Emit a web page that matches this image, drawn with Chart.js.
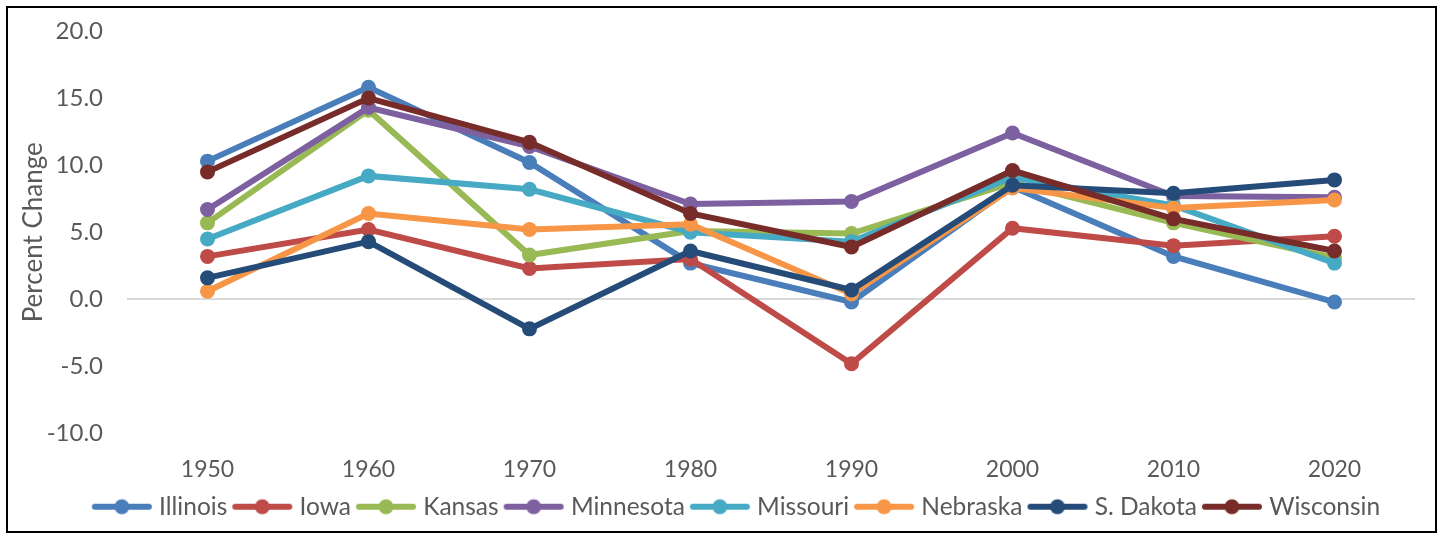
<!DOCTYPE html>
<html><head><meta charset="utf-8">
<script src="https://cdn.jsdelivr.net/npm/chart.js@4/dist/chart.umd.min.js"></script>
<style>
html,body{margin:0;padding:0;background:#fff;}
#wrap{position:relative;width:1441px;height:537px;}
#frame{position:absolute;left:6px;top:6px;width:1427px;height:523px;border:2px solid #000;pointer-events:none;}
#c{position:absolute;left:0;top:0;}
</style></head><body>
<div id="wrap"><canvas id="c" width="1441" height="537"></canvas><div id="frame"></div></div>
<script>
// Decade-over-decade population change (%) by state
const years = ['1950', '1960', '1970', '1980', '1990', '2000', '2010', '2020'];
const illinois  = [10.3, 15.8, 10.2, 2.7, -0.2, 8.4, 3.2, -0.2];
const iowa      = [3.2, 5.2, 2.3, 3.0, -4.8, 5.3, 4.0, 4.7];
const kansas    = [5.7, 14.1, 3.3, 5.1, 4.9, 8.7, 5.7, 3.1];
const minnesota = [6.7, 14.3, 11.4, 7.1, 7.3, 12.4, 7.7, 7.6];
const missouri  = [4.5, 9.2, 8.2, 5.0, 4.3, 9.1, 7.0, 2.7];
const nebraska  = [0.6, 6.4, 5.2, 5.6, 0.4, 8.3, 6.8, 7.4];
const sdakota   = [1.6, 4.3, -2.2, 3.6, 0.7, 8.5, 7.9, 8.9];
const wisconsin = [9.5, 15.0, 11.7, 6.4, 3.9, 9.6, 6.0, 3.6];
const yTicks    = [20, 15, 10, 5, 0, -5, -10];

const names  = ['Illinois', 'Iowa', 'Kansas', 'Minnesota', 'Missouri', 'Nebraska', 'S. Dakota', 'Wisconsin'];
const series = [illinois, iowa, kansas, minnesota, missouri, nebraska, sdakota, wisconsin];
const colors = ['#4A7EBB', '#BE4B48', '#98B954', '#7D60A0', '#46AAC5', '#F79646', '#254B78', '#772C2A'];

const FONT = "Lato, 'Open Sans', sans-serif";
const TEXT = '#595959';

// legend swatch: a short line with a dot in the middle
function swatch(color) {
  const cv = document.createElement('canvas');
  cv.width = 62; cv.height = 18;
  const g = cv.getContext('2d');
  g.strokeStyle = color; g.lineWidth = 6; g.lineCap = 'round';
  g.beginPath(); g.moveTo(4, 9); g.lineTo(58, 9); g.stroke();
  g.fillStyle = color;
  g.beginPath(); g.arc(31, 9, 7.5, 0, Math.PI * 2); g.fill();
  return cv;
}
const swatches = colors.map(swatch);

const datasets = series.map((d, i) => ({
  label: names[i],
  data: d,
  borderColor: colors[i],
  backgroundColor: colors[i],
  borderWidth: 6,
  pointRadius: 7.5,
  pointHoverRadius: 7.5,
  pointBorderWidth: 0,
  pointBackgroundColor: colors[i],
  tension: 0,
  order: series.length - i
}));

// nudge the legend row a little to the right of the canvas centre
const legendShift = {
  id: 'legendShift',
  afterLayout(chart) {
    if (chart.legend) { chart.legend.left += 24; chart.legend.right += 24; }
  }
};

new Chart(document.getElementById('c'), {
  type: 'line',
  data: { labels: years, datasets },
  plugins: [legendShift],
  options: {
    responsive: false,
    animation: false,
    layout: { padding: { left: 14, right: 26, top: 31, bottom: 8 } },
    plugins: {
      tooltip: { enabled: false },
      legend: {
        position: 'bottom',
        labels: {
          usePointStyle: true,
          pointStyleWidth: 50,
          padding: 10,
          color: TEXT,
          font: { family: FONT, size: 24.5 },
          generateLabels: (chart) => chart.data.datasets.map((ds, i) => ({
            text: ds.label,
            fillStyle: ds.borderColor,
            strokeStyle: ds.borderColor,
            lineWidth: 0,
            pointStyle: swatches[i],
            fontColor: TEXT,
            hidden: false,
            datasetIndex: i
          }))
        }
      }
    },
    scales: {
      x: {
        offset: true,
        grid: { display: false, drawTicks: false },
        border: { display: false },
        ticks: { color: TEXT, font: { family: FONT, size: 23 }, padding: 22 },
        afterFit: (s) => { s.height = 51; }
      },
      y: {
        min: -10, max: 20,
        afterBuildTicks: (s) => { s.ticks = yTicks.map(v => ({ value: v })); },
        afterFit: (s) => { s.width = 113; },
        grid: {
          drawTicks: true,
          tickLength: 20,
          tickColor: 'rgba(0,0,0,0)',
          lineWidth: 2,
          color: (ctx) => ctx.tick && ctx.tick.value === 0 ? '#D9D9D9' : 'rgba(0,0,0,0)'
        },
        border: { display: false },
        ticks: {
          color: TEXT,
          font: { family: FONT, size: 24 },
          padding: 4,
          callback: (v) => Number(v).toFixed(1)
        },
        title: {
          display: true,
          text: 'Percent Change',
          color: TEXT,
          font: { family: FONT, size: 26 },
          padding: 4
        }
      }
    }
  }
});
</script>
</body></html>
